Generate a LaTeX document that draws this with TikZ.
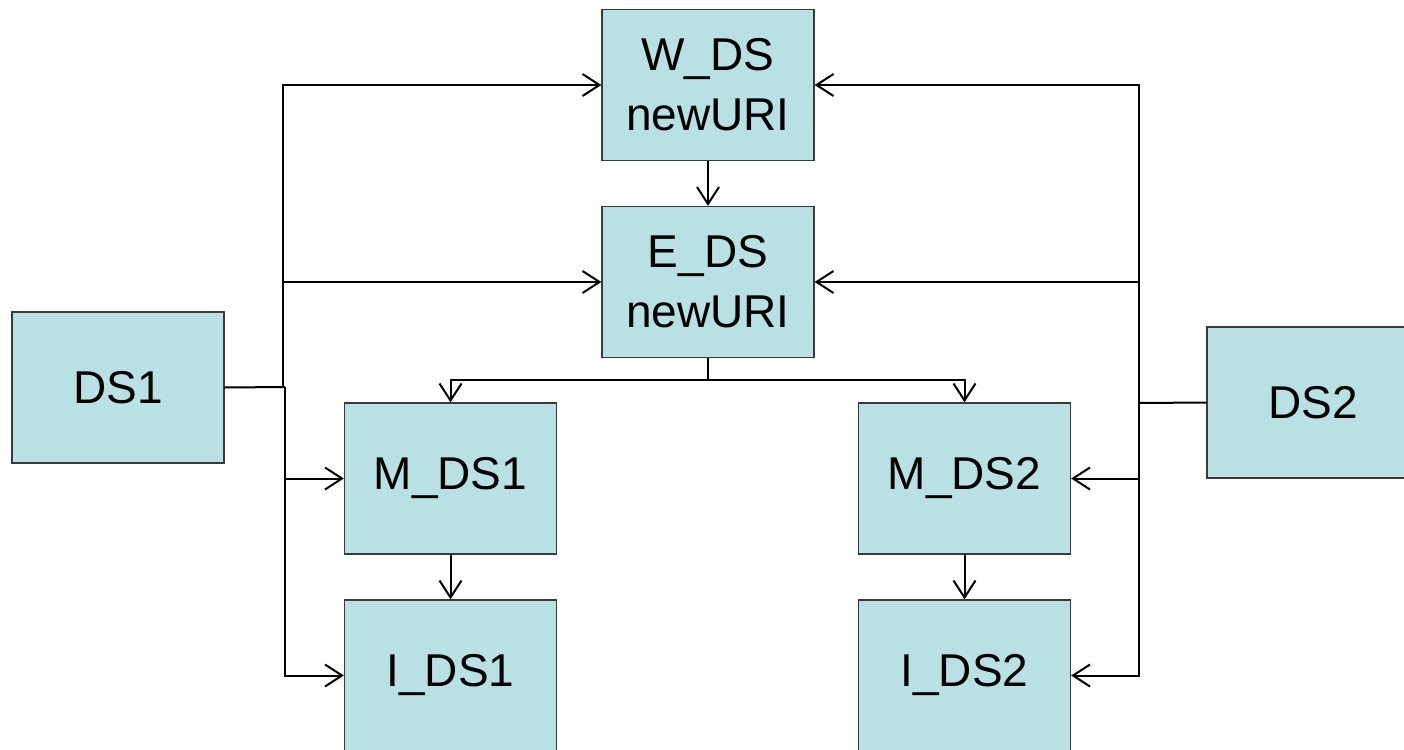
\documentclass[tikz,border=0pt]{standalone}
\usepackage{fontspec}
\setmainfont{Liberation Sans}
\usetikzlibrary{arrows.meta}
\definecolor{boxfill}{HTML}{B9E0E3}
\definecolor{boxline}{HTML}{3A3A3A}
\begin{document}
\begin{tikzpicture}[x=1pt,y=-1pt,
  dsbox/.style={draw=boxline,line width=1.3pt,fill=boxfill,minimum width=212pt,minimum height=151pt,inner sep=0pt,align=center,font=\fontsize{46}{60}\selectfont},
  conn/.style={line width=2pt,black},
  arr/.style={conn,-{Straight Barb[length=17pt,width=22pt,line width=2pt]}}]
\useasboundingbox (0,0) rectangle (1404,749);
\node[dsbox] (W) at (708,85) {W\_DS\\newURI};
\node[dsbox] (E) at (708,282) {E\_DS\\newURI};
\node[dsbox] (DS1) at (118,387.5) {DS1};
\node[dsbox] (DS2) at (1313,402.5) {DS2};
\node[dsbox] (M1) at (450.5,478.5) {M\_DS1};
\node[dsbox] (I1) at (450.5,675.5) {I\_DS1};
\node[dsbox] (M2) at (964.5,478.5) {M\_DS2};
\node[dsbox] (I2) at (964.5,675.5) {I\_DS2};
\coordinate (L1) at (283,387);
\coordinate (L2) at (285,387);
\coordinate (R) at (1139,403);
\coordinate (F) at (708,380);
\draw[conn] (DS1.east) -- (L2);
\draw[arr] (L1) |- (W.west);
\draw[arr] (L1 |- E.west) -- (E.west);
\draw[arr] (L2) |- (I1.west);
\draw[arr] (L2 |- M1.west) -- (M1.west);
\draw[conn] (DS2.west) -- (R);
\draw[arr] (R) |- (W.east);
\draw[arr] (R) |- (I2.east);
\draw[arr] (R |- E.east) -- (E.east);
\draw[arr] (R |- M2.east) -- (M2.east);
\draw[arr] (W.south) -- (E.north);
\draw[conn] (E.south) -- (F);
\draw[arr] (F) -| (M1.north);
\draw[arr] (F) -| (M2.north);
\draw[arr] (M1.south) -- (I1.north);
\draw[arr] (M2.south) -- (I2.north);
\end{tikzpicture}
\end{document}
